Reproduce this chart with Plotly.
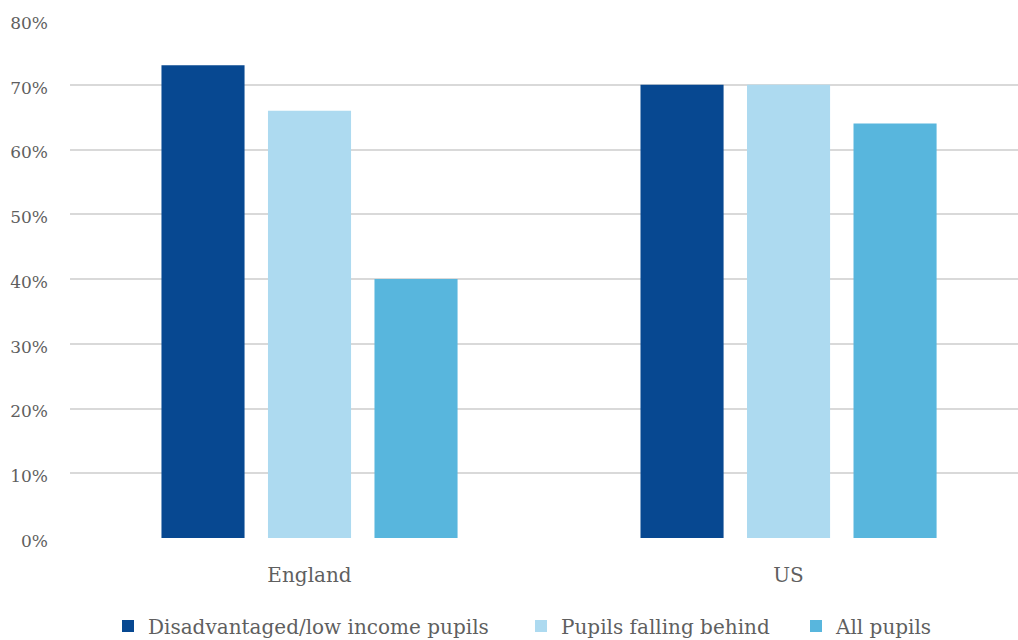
import plotly.graph_objects as go

categories = ["England", "US"]
series_names = ["Disadvantaged/low income pupils", "Pupils falling behind", "All pupils"]
disadvantaged = [73, 70]
falling_behind = [66, 70]
all_pupils = [40, 64]
colors = ["#074891", "#ADDAF0", "#58B6DD"]
y_ticks = [0, 10, 20, 30, 40, 50, 60, 70, 80]
y_tick_labels = ["0%", "10%", "20%", "30%", "40%", "50%", "60%", "70%", "80%"]

FONT = "DejaVu Serif"
GRAY = "#5f5f5f"

legend_ids = ["legend", "legend2", "legend3"]
text_starts = [148, 561, 836]

fig = go.Figure()
for name, vals, col, lid in zip(series_names, [disadvantaged, falling_behind, all_pupils], colors, legend_ids):
    fig.add_trace(go.Bar(x=categories, y=vals, name=name, legend=lid,
                         marker=dict(color=col, line=dict(width=0))))

legend_common = dict(orientation="h", xref="container", yref="container",
                     xanchor="left", yanchor="middle", y=14 / 640,
                     font=dict(size=20, color=GRAY), itemwidth=30,
                     bgcolor="rgba(0,0,0,0)", borderwidth=0)

layout_legends = {}
for lid, ts in zip(legend_ids, text_starts):
    layout_legends[lid] = dict(legend_common, x=(ts - 40) / 1018)

fig.update_layout(
    width=1018, height=640,
    margin=dict(l=70, r=0, t=20, b=102, autoexpand=False),
    paper_bgcolor="white", plot_bgcolor="white",
    barmode="group", bargap=0.333, bargroupgap=0.22,
    font=dict(family=FONT, color=GRAY, size=16),
    xaxis=dict(range=[-0.5, 1.479], showgrid=False, zeroline=False, showline=False,
               tickfont=dict(size=20, color=GRAY), ticks="", ticklabelstandoff=23),
    yaxis=dict(range=[0, 80], tickvals=y_ticks, ticktext=y_tick_labels,
               showgrid=True, gridcolor="#D9D9D9", gridwidth=2, zeroline=False,
               showline=False, ticks="", tickfont=dict(size=17, color=GRAY),
               ticklabelstandoff=21, ticklabelshift=3),
    showlegend=True,
    **layout_legends,
)

fig.write_html("out.html")
